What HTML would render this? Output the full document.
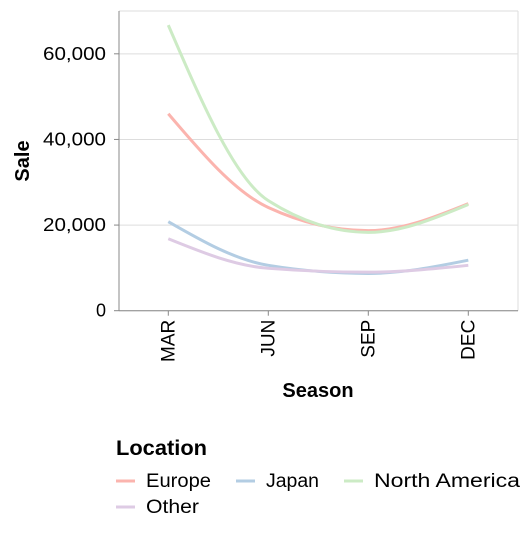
<!DOCTYPE html>
<html><head><meta charset="utf-8"><style>
body{margin:0;background:#fff;font-family:"Liberation Sans",sans-serif;}
</style></head><body>
<svg width="532" height="528" xmlns="http://www.w3.org/2000/svg" id="svg" font-family="Liberation Sans, sans-serif"></svg>
<script>
const categories=["MAR","JUN","SEP","DEC"];
const seriesNames=["Europe","Japan","North America","Other"];
const europe=[46000,24100,18700,25000];
const japan=[20800,10600,8700,11800];
const northAmerica=[66700,25700,18300,24800];
const other=[16800,9900,9000,10600];
const yTicks=[0,20000,40000,60000];
const colors=["#fbb4ae","#b3cde3","#ccebc5","#decbe4"];
const NS="http://www.w3.org/2000/svg";
const svg=document.getElementById('svg');
const L=119,R=518,T=11,B=310.7,YMAX=70000;
const x=i=>168.3+i*100;
const y=v=>B-(v/YMAX)*(B-T);
function mk(tag,at,parent){const e=document.createElementNS(NS,tag);for(const k in at)e.setAttribute(k,at[k]);(parent||svg).appendChild(e);return e;}
let g=mk('g',{});


yTicks.concat([YMAX]).forEach(t=>{mk('line',{x1:L,x2:R,y1:y(t),y2:y(t),stroke:'#ddd','stroke-width':1},g);});
mk('line',{x1:R,x2:R,y1:T,y2:B,stroke:'#ddd'},g);
let ya=mk('g',{});


mk('line',{x1:L,x2:L,y1:T,y2:B,stroke:'#888'},ya);
yTicks.forEach(t=>{mk('line',{x1:L-5,x2:L,y1:y(t),y2:y(t),stroke:'#888'},ya);
 const s=t.toLocaleString('en-US');
 const at={x:L-13,y:y(t)+6,'text-anchor':'end','font-size':18,fill:'#000'};
 if(s.length>1){at.textLength=s.length*10.5;at.lengthAdjust='spacingAndGlyphs';}
 const tx=mk('text',at,ya);tx.textContent=s;});
const yt=mk('text',{x:29,y:161,'text-anchor':'middle','font-size':20,'font-weight':'bold',transform:'rotate(-90 29 161)'},ya);yt.textContent='Sale';


let xa=mk('g',{});


mk('line',{x1:L,x2:R,y1:B,y2:B,stroke:'#888'},xa);
categories.forEach((c,i)=>{mk('line',{x1:x(i),x2:x(i),y1:B,y2:B+5,stroke:'#888'},xa);
 const tx=mk('text',{x:x(i)+6,y:B+9,'text-anchor':'end','font-size':19,transform:`rotate(-90 ${x(i)+6} ${B+9})`},xa);tx.textContent=c;});
const xt=mk('text',{x:318,y:397,'text-anchor':'middle','font-size':20,'font-weight':'bold'},xa);xt.textContent='Season';


function mono(pts){const n=pts.length,t=[],s=[];
 for(let i=0;i<n-1;i++)s.push((pts[i+1][1]-pts[i][1])/(pts[i+1][0]-pts[i][0]));
 for(let i=1;i<n-1;i++){const h0=pts[i][0]-pts[i-1][0],h1=pts[i+1][0]-pts[i][0],s0=s[i-1],s1=s[i],p=(s0*h1+s1*h0)/(h0+h1);
  t[i]=(Math.sign(s0)+Math.sign(s1))*Math.min(Math.abs(s0),Math.abs(s1),0.5*Math.abs(p))||0;}
 t[0]=(3*s[0]-t[1])/2;t[n-1]=(3*s[n-2]-t[n-2])/2;
 let d=`M${pts[0][0]},${pts[0][1]}`;
 for(let i=0;i<n-1;i++){const dx=(pts[i+1][0]-pts[i][0])/3;
  d+=`C${pts[i][0]+dx},${pts[i][1]+dx*t[i]},${pts[i+1][0]-dx},${pts[i+1][1]-dx*t[i+1]},${pts[i+1][0]},${pts[i+1][1]}`;}
 return d;}
const data=[europe,japan,northAmerica,other];
const order=[0,1,3,2];
order.forEach(k=>{const p=mk('path',{d:mono(data[k].map((v,i)=>[x(i),y(v)])),fill:'none',stroke:colors[k],'stroke-width':3});
 
 });
let lg=mk('g',{});


const lt=mk('text',{x:116,y:455,'font-size':21,'font-weight':'bold',textLength:91,lengthAdjust:'spacingAndGlyphs'},lg);lt.textContent='Location';
const pos=[[116,487],[236,487],[344,487],[116,513]];
const lens=[65,53,146,53];
seriesNames.forEach((nm,k)=>{const e=mk('g',{},lg);
 
 
 mk('line',{x1:pos[k][0],x2:pos[k][0]+19,y1:pos[k][1]-6,y2:pos[k][1]-6,stroke:colors[k],'stroke-width':3},e);
 const tx=mk('text',{x:pos[k][0]+30,y:pos[k][1],'font-size':19,textLength:lens[k],lengthAdjust:'spacingAndGlyphs'},e);tx.textContent=nm;});
</script>
</body></html>
